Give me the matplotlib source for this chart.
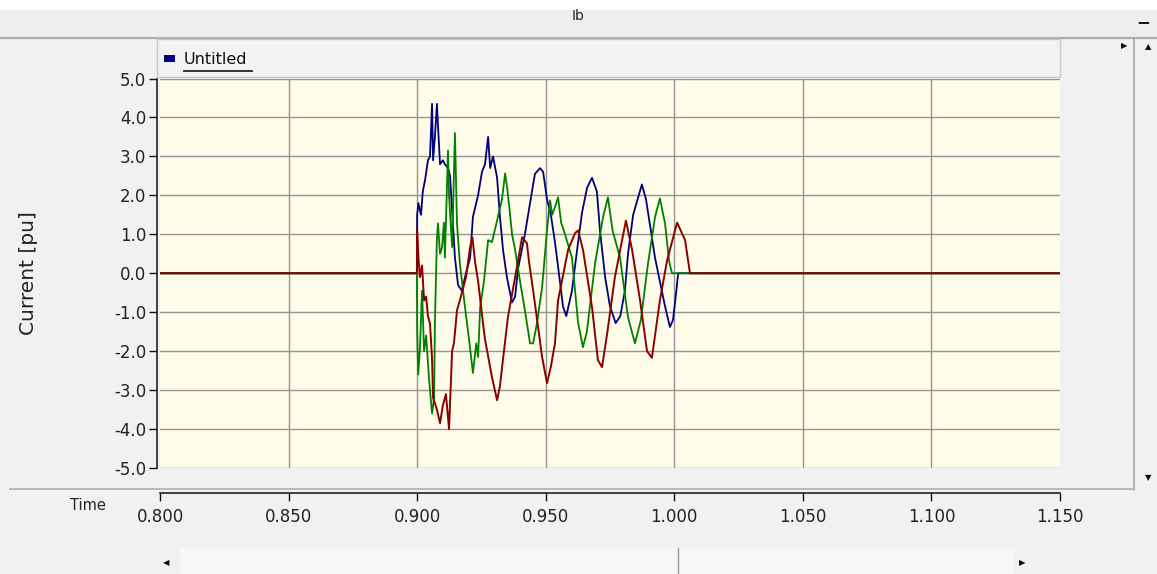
import matplotlib
matplotlib.use("Agg")
import matplotlib.pyplot as plt
from matplotlib.lines import Line2D
from matplotlib.patches import Rectangle

# ---------------- data ----------------
title = "Ib"
ylabel = "Current [pu]"
xlabel = "Time"
legend_label = "Untitled"
x_ticks = [0.80, 0.85, 0.90, 0.95, 1.00, 1.05, 1.10, 1.15]
y_ticks = [5, 4, 3, 2, 1, 0, -1, -2, -3, -4, -5]

t_blue = [0.800, 0.8999, 0.9000, 0.9005, 0.9015, 0.9022, 0.9031, 0.9042, 0.9050, 0.9058,
          0.9062, 0.9069, 0.9077, 0.9081, 0.9089, 0.9100, 0.9108, 0.9120, 0.9128, 0.9136,
          0.9147, 0.9159, 0.9174, 0.9186, 0.9206, 0.9217, 0.9237, 0.9252, 0.9264, 0.9276,
          0.9284, 0.9295, 0.9311, 0.9322, 0.9334, 0.9349, 0.9369, 0.9381, 0.9392, 0.9419,
          0.9439, 0.9458, 0.9478, 0.9490, 0.9505, 0.9520, 0.9536, 0.9556, 0.9567, 0.9580,
          0.9602, 0.9622, 0.9641, 0.9661, 0.9680, 0.9699, 0.9711, 0.9731, 0.9750, 0.9772,
          0.9790, 0.9808, 0.9820, 0.9840, 0.9874, 0.9890, 0.9925, 0.9964, 0.9983, 0.9995,
          1.0008, 1.0015, 1.150]
i_blue = [0.0, 0.0, 1.5, 1.8, 1.5, 2.1, 2.4, 2.9, 3.0, 4.35,
          2.9, 3.5, 4.35, 3.8, 2.8, 2.9, 2.8, 2.7, 2.5, 1.6,
          0.4, -0.3, -0.45, -0.1, 0.4, 1.45, 2.0, 2.6, 2.8, 3.5,
          2.7, 3.0, 2.45, 1.45, 0.6, -0.1, -0.75, -0.6, 0.1, 1.0,
          1.8, 2.55, 2.7, 2.6, 1.9, 1.5, 0.8, -0.25, -0.85, -1.1,
          -0.45, 0.6, 1.55, 2.2, 2.45, 2.1, 1.1, -0.1, -0.85, -1.28,
          -1.1, -0.45, 0.5, 1.5, 2.28, 1.9, 0.4, -0.85, -1.38, -1.2,
          -0.45, 0.0, 0.0]

t_green = [0.800, 0.8999, 0.9000, 0.9004, 0.9011, 0.9019, 0.9027, 0.9035, 0.9046, 0.9058,
           0.9066, 0.9069, 0.9077, 0.9081, 0.9089, 0.9097, 0.9104, 0.9108, 0.9120, 0.9124,
           0.9136, 0.9147, 0.9155, 0.9166, 0.9186, 0.9200, 0.9217, 0.9230, 0.9237, 0.9245,
           0.9260, 0.9276, 0.9291, 0.9314, 0.9330, 0.9342, 0.9350, 0.9360, 0.9369, 0.9381,
           0.9400, 0.9419, 0.9439, 0.9451, 0.9466, 0.9486, 0.9505, 0.9517, 0.9525, 0.9536,
           0.9548, 0.9560, 0.9575, 0.9602, 0.9626, 0.9645, 0.9660, 0.9692, 0.9723, 0.9742,
           0.9760, 0.9789, 0.9820, 0.9847, 0.9870, 0.9898, 0.9925, 0.9944, 0.9964, 0.9980,
           0.9991, 1.150]
i_green = [0.0, 0.0, -1.5, -2.6, -1.9, -0.45, -2.0, -1.6, -2.7, -3.6,
           -3.2, -1.3, 0.9, 1.28, 0.5, 0.67, 1.3, 0.4, 3.15, 2.0,
           0.67, 3.6, 1.28, 0.26, -0.87, -1.6, -2.56, -1.8, -2.15, -0.87,
           -0.2, 0.85, 0.8, 1.44, 1.9, 2.56, 2.2, 1.6, 1.0, 0.6,
           -0.2, -0.95, -1.8, -1.8, -1.28, -0.36, 1.1, 1.87, 1.5, 1.7,
           1.95, 1.3, 1.0, 0.4, -1.28, -1.9, -1.5, 0.26, 1.44, 1.95,
           1.1, 0.4, -1.13, -1.8, -1.2, 0.26, 1.44, 1.92, 1.28, 0.3,
           0.0, 0.0]

t_red = [0.800, 0.8999, 0.9000, 0.9006, 0.9011, 0.9019, 0.9027, 0.9035, 0.9042, 0.9050,
         0.9058, 0.9062, 0.9077, 0.9089, 0.9100, 0.9112, 0.9124, 0.9136, 0.9143, 0.9155,
         0.9166, 0.9178, 0.9190, 0.9206, 0.9215, 0.9225, 0.9237, 0.9256, 0.9264, 0.9291,
         0.9311, 0.9322, 0.9334, 0.9353, 0.9381, 0.9408, 0.9427, 0.9435, 0.9451, 0.9486,
         0.9505, 0.9520, 0.9536, 0.9548, 0.9587, 0.9614, 0.9626, 0.9645, 0.9680, 0.9703,
         0.9719, 0.9740, 0.9769, 0.9797, 0.9812, 0.9836, 0.9867, 0.9894, 0.9913, 0.9944,
         0.9972, 1.0011, 1.0042, 1.0061, 1.150]
i_red = [0.0, 0.0, 1.1, 0.3, -0.1, 0.2, -0.7, -0.6, -1.1, -1.3,
         -2.2, -3.2, -3.5, -3.85, -3.4, -3.1, -4.0, -2.0, -1.8, -0.95,
         -0.7, -0.4, -0.1, 0.67, 0.92, 0.3, -0.2, -1.28, -1.7, -2.67,
         -3.26, -2.9, -2.2, -1.13, -0.1, 0.92, 0.77, 0.3, -0.44, -2.15,
         -2.82, -2.4, -1.8, -0.7, 0.6, 1.03, 1.1, 0.6, -0.87, -2.23,
         -2.41, -1.5, -0.1, 0.85, 1.35, 0.6, -0.7, -2.0, -2.17, -0.7,
         0.33, 1.3, 0.85, 0.0, 0.0]

# ---------------- figure ----------------
W, H = 1157, 574
plt.rcParams["font.family"] = ["DejaVu Sans"]
fig = plt.figure(figsize=(W / 100, H / 100), dpi=100)
fig.patch.set_facecolor("#F1F1F1")


def fx(px):
    return px / W


def fy(py):
    return 1 - py / H


def hline(x0, x1, y, color, lw=1.0):
    fig.add_artist(Line2D([fx(x0), fx(x1)], [fy(y), fy(y)], color=color, lw=lw,
                          transform=fig.transFigure))


def vline(x, y0, y1, color, lw=1.0):
    fig.add_artist(Line2D([fx(x), fx(x)], [fy(y0), fy(y1)], color=color, lw=lw,
                          transform=fig.transFigure))


# top white strip and title bar
fig.add_artist(Rectangle((0, fy(10)), 1, 10 / H, transform=fig.transFigure,
                         facecolor="white", edgecolor="none"))
fig.add_artist(Rectangle((0, fy(36)), 1, 26 / H, transform=fig.transFigure,
                         facecolor="#EEEEEE", edgecolor="none"))
hline(0, W, 37.5, "#B0B0B0", 1.6)
fig.text(fx(578), fy(16), title, ha="center", va="center", fontsize=10, color="#222222")
fig.text(fx(1143), fy(22), "\u2212", ha="center", va="center", fontsize=12, color="#111111",
         fontweight="bold")

# legend band
fig.add_artist(Rectangle((fx(157), fy(77)), fx(1060) - fx(157), 38 / H,
                         transform=fig.transFigure, facecolor="#F3F3F3",
                         edgecolor="#C8C8C8", lw=1.0))
fig.add_artist(Rectangle((fx(164), fy(62)), 11 / W, 7 / H, transform=fig.transFigure,
                         facecolor="#000080", edgecolor="none"))
fig.text(fx(184), fy(59), legend_label, ha="left", va="center", fontsize=11.5, color="#111111")
hline(184, 252, 70.5, "#222222", 1.3)

# right scrollbar
vline(1134, 38, 490, "#A8A8A8", 1.2)
fig.text(fx(1148), fy(47), "\u25B2", ha="center", va="center", fontsize=6, color="#111111")
fig.text(fx(1148), fy(478), "\u25BC", ha="center", va="center", fontsize=6, color="#111111")
fig.text(fx(1124), fy(46), "\u25B6", ha="center", va="center", fontsize=6, color="#111111")

# separator above time axis
hline(10, 1132, 488.5, "#B8B8B8", 1.4)

# bottom scrollbar
fig.add_artist(Rectangle((fx(180), fy(574)), fx(1015) - fx(180), 26 / H,
                         transform=fig.transFigure, facecolor="#F7F7F7", edgecolor="none"))
vline(678, 548, 574, "#9A9A9A", 1.0)
fig.text(fx(166), fy(563), "\u25C0", ha="center", va="center", fontsize=6, color="#111111")
fig.text(fx(1022), fy(563), "\u25B6", ha="center", va="center", fontsize=6, color="#111111")

# ---------------- axes ----------------
left, right, top, bottom = 160, 1060, 78.5, 468
ax = fig.add_axes([fx(left), fy(bottom), fx(right) - fx(left), (bottom - top) / H])
ax.set_facecolor("#FFFCE9")
ax.set_xlim(0.80, 1.15)
ax.set_ylim(-5, 5)

for yv in y_ticks:
    ax.axhline(yv, color="#959595", lw=1.0, zorder=1)
for xv in x_ticks[1:-1]:
    ax.axvline(xv, color="#959595", lw=1.0, zorder=1)

ax.plot(t_blue, i_blue, color="#00007A", lw=1.3, zorder=3)
ax.plot(t_green, i_green, color="#008000", lw=1.3, zorder=4)
ax.plot(t_red, i_red, color="#8A0000", lw=1.4, zorder=5)

for s in ["top", "right"]:
    ax.spines[s].set_visible(False)
ax.spines["left"].set_position(("outward", 2))
ax.spines["left"].set_color("#111111")
ax.spines["left"].set_linewidth(1.1)
ax.spines["bottom"].set_position(("outward", 18))
ax.spines["bottom"].set_color("#111111")
ax.spines["bottom"].set_linewidth(1.1)

ax.set_yticks(y_ticks)
ax.set_yticklabels([f"{v:.1f}" for v in y_ticks])
ax.set_xticks(x_ticks)
ax.set_xticklabels([f"{v:.3f}" for v in x_ticks])
ax.tick_params(axis="y", direction="out", length=6, width=1.0, color="#111111",
               labelsize=12, pad=2, labelcolor="#222222")
ax.tick_params(axis="x", direction="out", length=6, width=1.0, color="#111111",
               labelsize=12, pad=5, labelcolor="#222222")

fig.text(fx(28), fy(273), ylabel, rotation=90, ha="center", va="center", fontsize=14.5,
         color="#222222")
fig.text(fx(88), fy(506), xlabel, ha="center", va="center", fontsize=10.5, color="#222222")

fig.savefig("out.png", dpi=100, facecolor=fig.get_facecolor())
